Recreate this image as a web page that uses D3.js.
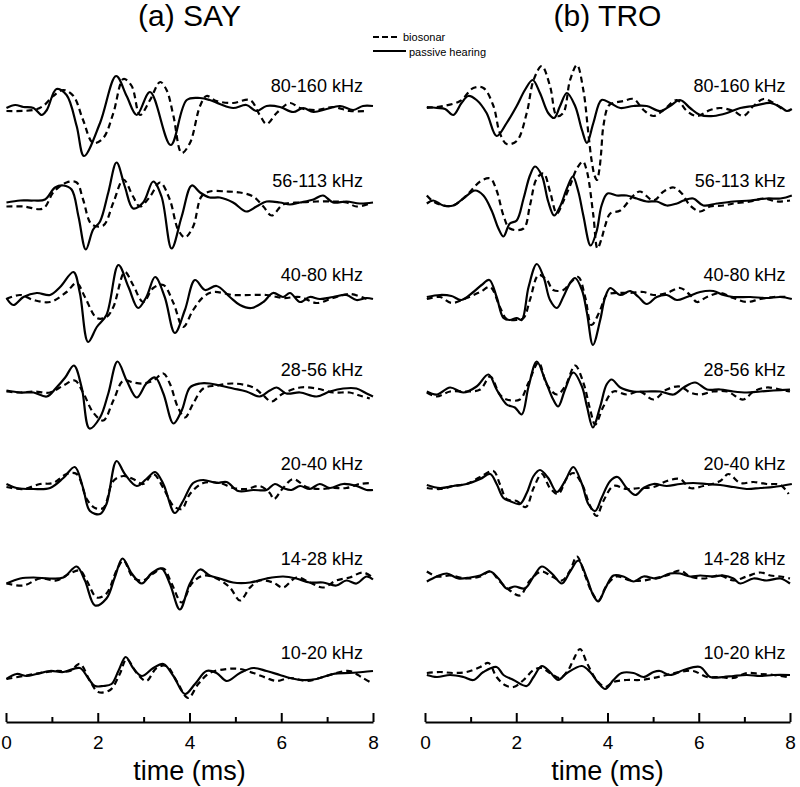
<!DOCTYPE html>
<html><head><meta charset="utf-8">
<script src="https://cdn.jsdelivr.net/npm/d3@7"></script>
<style>body{margin:0;background:#fff} text{font-family:"Liberation Sans",Arial,Helvetica,sans-serif;fill:#000}</style>
</head><body><svg id="c" width="800" height="787"></svg>
<script>
const bands = ["80-160 kHz","56-113 kHz","40-80 kHz","28-56 kHz","20-40 kHz","14-28 kHz","10-20 kHz"];
const panelTitles = ["(a) SAY","(b) TRO"];
const majorTicks = [0,2,4,6,8];
const minorTicks = [1,3,5,7];
const legendLabels = ["biosonar","passive hearing"];
const axisTitle = "time (ms)";

// waveforms: [time (ms), amplitude]
const say80_pas=[[0.01,0],[0.2,3],[0.38,1],[0.6,0],[0.78,-7],[0.89,-2],[1.1,19],[1.32,13],[1.54,-18],[1.7,-48],[2.05,-15],[2.4,32],[2.63,12],[2.85,-7],[3.14,16],[3.59,-37],[3.94,8],[4.23,10],[4.44,8],[4.66,4],[4.95,0],[5.24,3],[5.46,-3],[5.68,2],[5.97,1],[6.26,-4],[6.48,0],[6.7,-4],[6.99,-1],[7.28,2],[7.57,-2],[7.78,2],[8,2]];
const say80_bio=[[0.01,-3],[0.6,-2],[0.81,2],[1.03,12],[1.25,18],[1.47,12],[1.68,-12],[1.9,-35],[2.12,-30],[2.34,-5],[2.56,29],[2.74,22],[2.92,-7],[3.14,8],[3.36,26],[3.5,18],[3.65,-8],[3.83,-45],[4.01,-35],[4.23,2],[4.37,12],[4.59,7],[4.95,5],[5.32,8],[5.53,-7],[5.68,-16],[5.9,-5],[6.19,5],[6.41,0],[6.77,-2],[7.13,1],[7.49,-3],[7.86,-3]];
const say56_pas=[[0.01,0],[0.31,2],[0.6,2],[0.85,3],[1.07,15],[1.25,17],[1.43,13],[1.58,-14],[1.74,-47],[1.9,-27],[2.05,-19],[2.23,10],[2.41,40],[2.59,16],[2.77,-6],[2.99,0],[3.21,21],[3.39,6],[3.61,-46],[3.83,-14],[4.05,17],[4.23,10],[4.44,5],[4.66,5],[4.95,0],[5.24,-9],[5.46,-4],[5.68,1],[5.97,0],[6.19,-2],[6.41,0],[6.7,3],[6.91,7],[7.13,0],[7.42,1],[7.71,-1],[8,0]];
const say56_bio=[[0.01,-4],[0.38,-4],[0.81,-6],[1.03,10],[1.32,20],[1.54,20],[1.68,3],[1.87,-22],[2.12,-23],[2.34,0],[2.56,23],[2.77,6],[2.92,-4],[3.14,6],[3.36,20],[3.57,3],[3.75,-27],[3.9,-35],[4.08,-24],[4.26,6],[4.44,11],[4.81,11],[5.1,10],[5.39,6],[5.61,-4],[5.79,-13],[6.04,-2],[6.41,0],[6.77,1],[7.13,1],[7.42,0],[7.64,-4],[7.93,-1]];
const say40_pas=[[0.01,-1],[0.16,-8],[0.38,0],[0.67,4],[0.96,2],[1.18,10],[1.47,25],[1.61,4],[1.79,-45],[1.98,-30],[2.19,-18],[2.45,32],[2.67,10],[2.88,-11],[3.06,0],[3.25,20],[3.46,0],[3.68,-36],[3.9,-13],[4.12,17],[4.34,7],[4.59,11],[4.88,0],[5.1,-8],[5.35,-11],[5.61,-5],[5.82,4],[6.04,0],[6.19,4],[6.41,-5],[6.62,0],[6.84,-2],[7.13,0],[7.42,2],[7.64,-3],[7.86,-1],[8,-2]];
const say40_bio=[[0.01,-2],[0.31,2],[0.6,-3],[0.96,-5],[1.32,5],[1.54,14],[1.72,0],[1.98,-21],[2.19,-20],[2.34,-10],[2.59,25],[2.77,12],[2.99,-5],[3.21,9],[3.43,12],[3.65,-6],[3.86,-30],[4.08,-13],[4.3,0],[4.52,5],[4.95,2],[5.32,2],[5.68,2],[6.04,-1],[6.41,0],[6.77,-6],[7.13,-1],[7.49,3],[7.86,-2]];
const say28_pas=[[0.01,1],[0.31,-1],[0.6,-1],[0.89,-5],[1.1,4],[1.29,14],[1.48,26],[1.65,4],[1.82,-37],[2.05,-26],[2.23,-2],[2.43,30],[2.63,11],[2.85,-6],[3.06,8],[3.25,14],[3.43,-2],[3.65,-32],[3.83,-19],[4.01,4],[4.23,8],[4.44,8],[4.66,6],[4.95,3],[5.24,0],[5.53,-5],[5.75,1],[5.9,4],[6.11,-2],[6.41,-1],[6.77,-5],[7.06,0],[7.35,3],[7.64,3],[7.86,-2],[8,-5]];
const say28_bio=[[0.01,0],[0.31,-1],[0.6,0],[0.96,-1],[1.25,6],[1.5,11],[1.68,-1],[1.9,-21],[2.12,-29],[2.34,-9],[2.56,11],[2.77,9],[2.99,8],[3.21,11],[3.43,18],[3.57,8],[3.75,-16],[3.9,-26],[4.08,-12],[4.3,3],[4.59,6],[4.95,8],[5.39,4],[5.61,-4],[5.79,-10],[6.04,-2],[6.41,4],[6.77,3],[7.13,-1],[7.49,-1],[7.71,-4],[7.93,-7]];
const say20_pas=[[0.01,2],[0.23,-2],[0.6,-3],[0.96,-2],[1.25,8],[1.5,19],[1.68,-2],[1.83,-25],[2.05,-28],[2.19,-18],[2.41,25],[2.59,12],[2.85,0],[3.06,7],[3.25,14],[3.43,2],[3.68,-27],[3.86,-15],[4.08,3],[4.3,6],[4.59,3],[4.81,4],[5.06,-5],[5.39,-4],[5.68,-4],[5.86,2],[6.04,-2],[6.22,-4],[6.41,0],[6.62,-3],[6.84,2],[7.06,-2],[7.35,2],[7.64,0],[7.86,-4],[8,-4]];
const say20_bio=[[0.01,-1],[0.38,-3],[0.74,2],[1.03,3],[1.32,12],[1.54,12],[1.76,-13],[1.94,-22],[2.12,-22],[2.34,5],[2.56,10],[2.77,7],[2.99,2],[3.21,12],[3.43,-2],[3.65,-20],[3.83,-23],[4.01,-8],[4.3,3],[4.66,3],[4.95,-2],[5.24,-3],[5.53,0],[5.75,-7],[5.84,-13],[6.04,-2],[6.26,7],[6.55,-1],[6.84,-3],[7.13,-2],[7.42,-2],[7.71,2],[7.93,3]];
const say14_pas=[[0.01,-3],[0.31,2],[0.6,3],[0.96,2],[1.25,3],[1.54,14],[1.72,0],[1.94,-25],[2.19,-18],[2.37,3],[2.54,22],[2.74,7],[2.96,-3],[3.17,7],[3.39,12],[3.57,-3],[3.79,-29],[4.01,-3],[4.23,11],[4.44,5],[4.66,2],[4.95,-2],[5.32,-2],[5.68,2],[6.04,4],[6.33,2],[6.62,-2],[6.91,-2],[7.2,-5],[7.42,0],[7.64,-3],[7.86,4],[8,1]];
const say14_bio=[[0.01,-3],[0.38,-5],[0.74,2],[1.1,0],[1.39,7],[1.61,10],[1.76,0],[1.98,-17],[2.19,-13],[2.41,10],[2.56,20],[2.77,3],[2.99,0],[3.21,7],[3.43,12],[3.61,-3],[3.83,-22],[4.05,-3],[4.3,5],[4.59,2],[4.88,-7],[5.1,-20],[5.32,-7],[5.53,0],[5.82,-2],[6.04,-7],[6.33,3],[6.62,-2],[6.91,-7],[7.2,0],[7.49,3],[7.78,8],[8,3]];
const say10_pas=[[0.01,-4],[0.23,1],[0.45,-1],[0.67,1],[0.96,4],[1.25,3],[1.61,7],[1.79,-3],[1.94,-11],[2.12,-11],[2.3,-9],[2.45,4],[2.61,18],[2.77,7],[2.96,-1],[3.21,7],[3.43,11],[3.65,-1],[3.9,-19],[4.12,-9],[4.37,4],[4.59,2],[4.81,-6],[5.1,2],[5.39,7],[5.68,4],[5.97,0],[6.19,-3],[6.48,-5],[6.77,-4],[7.13,1],[7.49,2],[7.78,3],[8,4]];
const say10_bio=[[0.01,-4],[0.38,-1],[0.74,2],[1.1,4],[1.39,4],[1.61,11],[1.83,-6],[2.01,-17],[2.27,-15],[2.48,1],[2.63,16],[2.85,2],[3.06,-6],[3.28,7],[3.5,9],[3.72,-6],[3.97,-23],[4.19,-9],[4.44,2],[4.81,6],[5.1,6],[5.39,2],[5.68,-3],[5.9,-6],[6.19,-3],[6.55,-6],[6.84,-3],[7.13,1],[7.49,4],[7.78,-3],[7.97,-8]];

const tro80_pas=[[0.04,1],[0.26,0],[0.44,-1],[0.62,-7],[0.8,5],[0.95,12],[1.13,8],[1.35,-5],[1.57,-28],[1.79,-15],[2.01,2],[2.19,18],[2.36,28],[2.52,15],[2.7,-5],[2.83,-10],[2.96,2],[3.11,15],[3.29,2],[3.44,-22],[3.55,-35],[3.69,-15],[3.87,8],[4.06,5],[4.28,0],[4.57,2],[4.86,2],[5.15,-3],[5.37,2],[5.59,8],[5.81,0],[6.03,-7],[6.32,-8],[6.62,-5],[6.91,0],[7.2,2],[7.57,5],[7.79,1],[7.93,-3],[8.04,-1]];
const tro80_bio=[[0.04,0],[0.4,2],[0.77,7],[1.06,20],[1.28,20],[1.5,2],[1.64,-25],[1.79,-36],[2.01,-33],[2.23,-5],[2.38,28],[2.56,42],[2.74,22],[2.89,-8],[3.03,-5],[3.18,28],[3.33,43],[3.47,18],[3.58,-25],[3.65,-52],[3.72,-68],[3.77,-72],[3.82,-62],[3.86,-45],[3.91,-18],[4.02,2],[4.13,5],[4.35,7],[4.57,9],[4.79,-2],[5.01,-8],[5.23,-2],[5.52,8],[5.74,-3],[5.96,-8],[6.25,-2],[6.47,0],[6.76,-3],[6.98,-8],[7.2,2],[7.42,9],[7.64,5],[7.86,-2]];
const tro56_pas=[[0.04,-1],[0.18,2],[0.4,-3],[0.62,-3],[0.84,4],[1.1,12],[1.28,7],[1.46,-8],[1.61,-26],[1.72,-34],[1.86,-21],[2.01,-18],[2.16,4],[2.3,27],[2.41,36],[2.56,27],[2.7,1],[2.83,-13],[2.96,-4],[3.11,14],[3.24,26],[3.36,11],[3.47,-13],[3.63,-43],[3.76,-29],[3.87,-3],[4,9],[4.2,7],[4.42,7],[4.64,4],[4.86,1],[5.08,1],[5.3,-3],[5.52,-1],[5.67,2],[5.88,4],[6.1,-3],[6.4,-1],[6.76,1],[7.13,2],[7.49,4],[7.79,4],[8.04,7]];
const tro56_bio=[[0.04,7],[0.18,1],[0.4,-3],[0.62,-3],[0.91,7],[1.21,21],[1.43,24],[1.57,12],[1.72,-13],[1.86,-26],[2.16,-26],[2.3,-3],[2.45,24],[2.6,29],[2.74,11],[2.89,-11],[3.03,1],[3.18,17],[3.33,34],[3.46,41],[3.55,31],[3.69,-13],[3.78,-46],[3.87,-36],[3.95,-23],[4.06,-11],[4.28,-8],[4.57,7],[4.71,11],[5.01,2],[5.23,11],[5.45,15],[5.63,9],[5.81,-3],[6.03,-9],[6.25,-4],[6.54,-3],[6.76,-1],[7.13,1],[7.42,4],[7.71,1],[8,2]];
const tro40_pas=[[0.04,0],[0.33,2],[0.58,1],[0.8,-3],[1.06,5],[1.24,12],[1.41,17],[1.57,0],[1.72,-21],[1.86,-23],[2.01,-21],[2.12,-23],[2.27,10],[2.45,33],[2.6,20],[2.74,-3],[2.89,-11],[3.03,0],[3.18,14],[3.29,19],[3.44,7],[3.55,-16],[3.68,-48],[3.84,-23],[3.95,0],[4.06,9],[4.28,2],[4.5,6],[4.68,0],[4.86,-7],[5.08,0],[5.3,2],[5.52,-3],[5.74,0],[6.03,5],[6.32,6],[6.54,2],[6.76,0],[7.13,0],[7.49,-1],[7.79,0],[8.04,-2]];
const tro40_bio=[[0.04,-2],[0.33,0],[0.58,-6],[0.91,-1],[1.21,5],[1.43,10],[1.64,-10],[1.79,-22],[2.01,-23],[2.16,-21],[2.3,-3],[2.49,22],[2.67,17],[2.81,7],[3.03,7],[3.18,14],[3.36,20],[3.51,0],[3.65,-28],[3.84,-13],[3.98,2],[4.2,4],[4.5,4],[4.79,5],[5.01,2],[5.3,4],[5.59,9],[5.81,2],[5.96,-5],[6.18,0],[6.47,4],[6.76,-1],[7.05,-5],[7.35,-2],[7.64,0],[7.93,0]];
const tro28_pas=[[0.04,0],[0.26,-3],[0.55,4],[0.84,-1],[1.13,5],[1.39,17],[1.57,2],[1.79,-13],[1.97,-16],[2.12,-23],[2.27,5],[2.45,30],[2.63,12],[2.81,-8],[2.92,-15],[3.07,2],[3.25,19],[3.44,5],[3.55,-15],[3.68,-36],[3.84,-15],[3.98,7],[4.09,12],[4.28,4],[4.57,0],[4.86,0],[5.15,0],[5.45,-3],[5.67,4],[5.92,9],[6.18,2],[6.47,2],[6.76,0],[7.05,-1],[7.35,0],[7.64,1],[8,2]];
const tro28_bio=[[0.04,-1],[0.26,-5],[0.55,0],[0.91,0],[1.21,2],[1.43,15],[1.64,-3],[1.79,-8],[2.08,-8],[2.27,9],[2.49,29],[2.67,7],[2.89,-3],[3.07,5],[3.29,26],[3.47,9],[3.62,-18],[3.73,-33],[3.91,-15],[4.13,0],[4.42,-3],[4.71,0],[5.01,-8],[5.3,2],[5.59,5],[5.81,-1],[6.03,-3],[6.32,0],[6.62,0],[6.98,-8],[7.2,0],[7.49,4],[7.79,2],[8,0]];
const tro20_pas=[[0.04,1],[0.33,-2],[0.62,0],[0.91,2],[1.21,7],[1.43,12],[1.57,2],[1.72,-12],[1.86,-15],[2.08,-18],[2.23,-7],[2.38,10],[2.52,16],[2.7,8],[2.89,-6],[3.07,5],[3.25,19],[3.44,2],[3.58,-18],[3.73,-25],[3.87,-12],[4.06,5],[4.22,9],[4.42,-2],[4.61,-9],[4.79,-2],[5.01,2],[5.3,0],[5.59,2],[5.88,3],[6.18,2],[6.47,1],[6.76,-1],[7.05,-3],[7.35,-2],[7.64,-1],[8.04,2]];
const tro20_bio=[[0.04,-2],[0.33,-3],[0.62,0],[0.91,2],[1.21,9],[1.5,15],[1.64,2],[1.79,-13],[2.01,-15],[2.21,-21],[2.38,-2],[2.56,12],[2.74,-2],[2.92,-8],[3.11,8],[3.25,13],[3.44,2],[3.62,-20],[3.76,-30],[3.91,-15],[4.13,0],[4.42,-3],[4.71,-2],[5.01,-1],[5.3,5],[5.59,7],[5.81,-2],[6.1,0],[6.47,5],[6.65,12],[6.91,3],[7.2,4],[7.49,2],[7.79,1],[7.97,-8]];
const tro14_pas=[[0.04,-1],[0.26,4],[0.48,7],[0.73,2],[0.99,3],[1.21,5],[1.43,9],[1.61,2],[1.79,-8],[1.97,-6],[2.19,-8],[2.38,4],[2.56,14],[2.78,7],[3,-3],[3.18,9],[3.36,20],[3.55,2],[3.69,-15],[3.8,-21],[3.95,-8],[4.13,5],[4.35,4],[4.57,-1],[4.79,4],[5.08,2],[5.37,7],[5.59,7],[5.81,4],[6.03,5],[6.32,4],[6.54,5],[6.76,2],[6.91,-3],[7.2,2],[7.49,0],[7.79,2],[8,-3]];
const tro14_bio=[[0.04,9],[0.26,4],[0.55,5],[0.91,2],[1.21,4],[1.43,9],[1.64,-1],[1.86,-10],[2.08,-15],[2.3,0],[2.56,9],[2.78,4],[3,0],[3.18,10],[3.33,24],[3.51,5],[3.65,-11],[3.8,-20],[3.98,-5],[4.2,4],[4.5,0],[4.79,0],[5.01,2],[5.3,5],[5.59,10],[5.81,4],[6.1,2],[6.47,5],[6.76,0],[7.05,4],[7.35,8],[7.57,5],[7.79,4],[8,2]];
const tro10_pas=[[0.04,0],[0.26,-2],[0.55,0],[0.84,-2],[1.06,-5],[1.28,3],[1.57,8],[1.72,0],[1.94,-5],[2.23,-11],[2.38,-2],[2.56,9],[2.74,3],[2.92,-5],[3.11,2],[3.44,9],[3.62,3],[3.8,-8],[3.95,-14],[4.13,-5],[4.31,2],[4.57,2],[4.79,-2],[5.01,3],[5.15,4],[5.37,0],[5.67,5],[6.03,8],[6.25,-2],[6.54,-2],[6.76,-1],[7.05,0],[7.35,-1],[7.64,0],[8,0]];
const tro10_bio=[[0.04,2],[0.33,3],[0.62,2],[0.91,3],[1.21,8],[1.39,12],[1.57,-2],[1.75,-10],[1.94,-12],[2.16,-5],[2.38,5],[2.56,7],[2.74,2],[2.96,-3],[3.14,5],[3.25,15],[3.4,26],[3.55,12],[3.76,-5],[3.95,-12],[4.13,-7],[4.42,-5],[4.71,-5],[5.01,-3],[5.3,0],[5.59,3],[5.88,4],[6.18,-2],[6.47,-2],[6.76,-3],[7.05,2],[7.35,1],[7.64,0],[7.93,-2]];

const panels = [
  {title: panelTitles[0], labelAt: 7.78,
   bio: [say80_bio,say56_bio,say40_bio,say28_bio,say20_bio,say14_bio,say10_bio],
   pas: [say80_pas,say56_pas,say40_pas,say28_pas,say20_pas,say14_pas,say10_pas]},
  {title: panelTitles[1], labelAt: 7.9,
   bio: [tro80_bio,tro56_bio,tro40_bio,tro28_bio,tro20_bio,tro14_bio,tro10_bio],
   pas: [tro80_pas,tro56_pas,tro40_pas,tro28_pas,tro20_pas,tro14_pas,tro10_pas]}
];

const svg = d3.select("#c");
const xRanges = [[6,373],[425,790]];
const rowY = d3.scalePoint().domain(bands).range([108,675]);
const amp = d3.scaleLinear().domain([-50,50]).range([50,-50]);
const axisY = 722;

panels.forEach((p,i)=>{
  const x = d3.scaleLinear().domain([0,8]).range(xRanges[i]);
  const g = svg.append("g");
  g.append("text").attr("x",(x(0)+x(8))/2).attr("y",26).attr("text-anchor","middle")
    .attr("font-size",30).text(p.title);
  bands.forEach((b,j)=>{
    const y0 = rowY(b);
    const line = d3.line().x(d=>x(d[0])).y(d=>y0+amp(d[1])).curve(d3.curveCatmullRom.alpha(0.5));
    g.append("path").attr("d",line(p.bio[j])).attr("fill","none").attr("stroke","#000")
      .attr("stroke-width",2.2).attr("stroke-dasharray","6,4");
    g.append("path").attr("d",line(p.pas[j])).attr("fill","none").attr("stroke","#000")
      .attr("stroke-width",2.2).attr("stroke-linejoin","round");
    g.append("text").attr("x",x(p.labelAt)).attr("y",y0-16).attr("text-anchor","end")
      .attr("font-size",18).text(b);
  });
  const ag = g.append("g").attr("transform",`translate(0,${axisY})`);
  ag.call(d3.axisBottom(x).tickValues(majorTicks).tickSize(-9).tickSizeOuter(0).tickPadding(14).tickFormat(d3.format("d")));
  const mg = g.append("g").attr("transform",`translate(0,${axisY})`);
  mg.call(d3.axisBottom(x).tickValues(minorTicks).tickSize(-5).tickSizeOuter(0).tickFormat(""));
  mg.select(".domain").remove();
  g.selectAll(".domain").attr("stroke-width",2).attr("stroke","#000");
  g.selectAll(".tick line").attr("stroke-width",2).attr("stroke","#000");
  ag.selectAll(".tick text").attr("font-size",19).attr("font-family",'"Liberation Sans",Arial,sans-serif');
  g.append("text").attr("x",(x(0)+x(8))/2).attr("y",780).attr("text-anchor","middle")
    .attr("font-size",27).text(axisTitle);
});

// legend
const lg = svg.append("g");
lg.append("line").attr("x1",373).attr("x2",399).attr("y1",37).attr("y2",37)
  .attr("stroke","#000").attr("stroke-width",2).attr("stroke-dasharray","6,3");
lg.append("line").attr("x1",373).attr("x2",406).attr("y1",51).attr("y2",51)
  .attr("stroke","#000").attr("stroke-width",2.2);
lg.append("text").attr("x",403).attr("y",41).attr("font-size",11).text(legendLabels[0]);
lg.append("text").attr("x",409).attr("y",56).attr("font-size",11).text(legendLabels[1]);
</script></body></html>
